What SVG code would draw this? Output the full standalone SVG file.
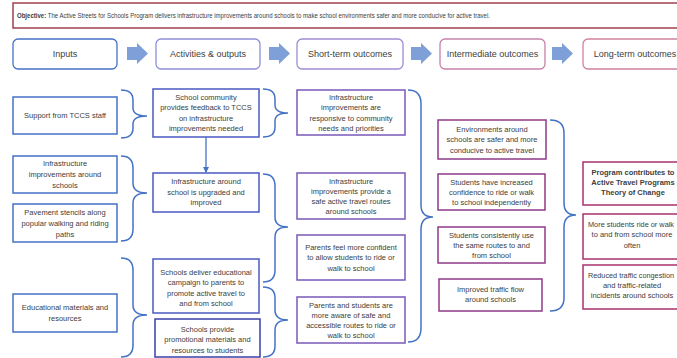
<svg xmlns="http://www.w3.org/2000/svg" width="677" height="358" viewBox="0 0 677 358">
<style>
text{font-family:"Liberation Sans","Open Sans",Arial,sans-serif;fill:#404040;}
.t{font-size:7.5px;text-anchor:middle;}
.h{font-size:9px;text-anchor:middle;}
.b{font-weight:bold;}
.box{fill:#fff;stroke-width:1.5;}
.in{stroke:#4472c4;}
.act{stroke:#4a58c0;}
.st{stroke:#7a58b8;}
.im{stroke:#8e3a88;}
.lt{stroke:#a8326c;}
.hd{fill:#fff;stroke-width:1.3;}
.brace{fill:none;stroke:#4472c4;stroke-width:1.5;}
.blk{fill:#7f9fd8;}
</style>
<defs>
<marker id="ah" markerWidth="6" markerHeight="6" refX="5" refY="3" orient="auto" markerUnits="userSpaceOnUse">
<path d="M0,0 L6,3 L0,6 Z" fill="#4472c4"/>
</marker>
</defs>
<rect width="677" height="358" fill="#fff"/>

<g id="objective">
<rect x="13" y="3" width="700" height="25" fill="#fff" stroke="#a0404f" stroke-width="1.5"/>
<text x="17" y="18" font-size="6.4" textLength="473" lengthAdjust="spacingAndGlyphs"><tspan class="b">Objective:</tspan> The Active Streets for Schools Program delivers infrastructure improvements around schools to make school environments safer and more conducive for active travel.</text>
</g>

<g id="headers">
<g id="h-inputs"><rect class="hd" x="13" y="39" width="104" height="30" rx="5" stroke="#4472c4" stroke-width="2"/><text class="h" x="65" y="57">Inputs</text></g>
<g id="h-activities"><rect class="hd" x="156" y="39" width="104" height="30" rx="5" stroke="#8e8fd6"/><text class="h" x="208" y="57">Activities &amp; outputs</text></g>
<g id="h-short"><rect class="hd" x="297" y="39" width="106" height="30" rx="5" stroke="#a08cd4"/><text class="h" x="350" y="57">Short-term outcomes</text></g>
<g id="h-inter"><rect class="hd" x="440" y="39" width="105" height="30" rx="5" stroke="#c682a9"/><text class="h" x="492.5" y="57">Intermediate outcomes</text></g>
<g id="h-long"><rect class="hd" x="583" y="39" width="110" height="30" rx="5" stroke="#d2809f"/><text class="h" x="635" y="57">Long-term outcomes</text></g>
<path class="blk" d="M127,47 H137 V43 L148,53.5 L137,64 V60 H127 Z"/>
<path class="blk" d="M269,47 H279 V43 L290,53.5 L279,64 V60 H269 Z"/>
<path class="blk" d="M411,47 H421 V43 L432,53.5 L421,64 V60 H411 Z"/>
<path class="blk" d="M552,47 H562 V43 L573,53.5 L562,64 V60 H552 Z"/>
</g>

<g id="i1"><rect class="box in" x="13" y="97" width="104" height="37"/><text class="t" x="65" y="118">Support from TCCS staff</text></g>
<g id="i2"><rect class="box in" x="13" y="156" width="104" height="37"/><text class="t" x="65" y="166">Infrastructure</text><text class="t" x="65" y="177">improvements around</text><text class="t" x="65" y="188">schools</text></g>
<g id="i3"><rect class="box in" x="13" y="204" width="104" height="38"/><text class="t" x="65" y="214.5">Pavement stencils along</text><text class="t" x="65" y="225.5">popular walking and riding</text><text class="t" x="65" y="236.5">paths</text></g>
<g id="i4"><rect class="box in" x="13" y="294" width="104" height="38"/><text class="t" x="65" y="310">Educational materials and</text><text class="t" x="65" y="321">resources</text></g>

<g id="a1"><rect class="box act" x="153" y="89" width="106" height="48"/><text class="t" x="206" y="100">School community</text><text class="t" x="206" y="110.3">provides feedback to TCCS</text><text class="t" x="206" y="120.6">on infrastructure</text><text class="t" x="206" y="130.9">improvements needed</text></g>
<g id="a2"><rect class="box act" x="153" y="173" width="106" height="39"/><text class="t" x="206" y="184">Infrastructure around</text><text class="t" x="206" y="194.5">school is upgraded and</text><text class="t" x="206" y="205">improved</text></g>
<g id="a3"><rect class="box act" x="153" y="259" width="106" height="54"/><text class="t" x="206" y="275">Schools deliver educational</text><text class="t" x="206" y="285.3">campaign to parents to</text><text class="t" x="206" y="295.6">promote active travel to</text><text class="t" x="206" y="305.9">and from school</text></g>
<g id="a4"><rect class="box" x="155" y="319" width="105" height="38" stroke="#3a40a8" stroke-width="2"/><text class="t" x="207.5" y="332">Schools provide</text><text class="t" x="207.5" y="342.3">promotional materials and</text><text class="t" x="207.5" y="352.6">resources to students</text></g>

<g id="s1"><rect class="box st" x="297" y="90" width="108" height="45"/><text class="t" x="351" y="100">Infrastructure</text><text class="t" x="351" y="110.3">improvements are</text><text class="t" x="351" y="120.6">responsive to community</text><text class="t" x="351" y="130.9">needs and priorities</text></g>
<g id="s2"><rect class="box st" x="297" y="173" width="108" height="46"/><text class="t" x="351" y="183.5">Infrastructure</text><text class="t" x="351" y="193.8">improvements provide a</text><text class="t" x="351" y="204.1">safe active travel routes</text><text class="t" x="351" y="214.4">around schools</text></g>
<g id="s3"><rect class="box st" x="297" y="235" width="108" height="45"/><text class="t" x="351" y="250">Parents feel more confident</text><text class="t" x="351" y="260.3">to allow students to ride or</text><text class="t" x="351" y="270.6">walk to school</text></g>
<g id="s4"><rect class="box st" x="297" y="297" width="108" height="46"/><text class="t" x="351" y="307.5">Parents and students are</text><text class="t" x="351" y="317.8">more aware of safe and</text><text class="t" x="351" y="328.1">accessible routes to ride or</text><text class="t" x="351" y="338.4">walk to school</text></g>

<g id="m1"><rect class="box im" x="438" y="120" width="108" height="39"/><text class="t" x="492" y="132">Environments around</text><text class="t" x="492" y="142.3">schools are safer and more</text><text class="t" x="492" y="152.6">conducive to active travel</text></g>
<g id="m2"><rect class="box im" x="438" y="174" width="107" height="36"/><text class="t" x="491.5" y="184.5">Students have increased</text><text class="t" x="491.5" y="194.8">confidence to ride or walk</text><text class="t" x="491.5" y="205.1">to school independently</text></g>
<g id="m3"><rect class="box im" x="438" y="227" width="107" height="36"/><text class="t" x="491.5" y="237.5">Students consistently use</text><text class="t" x="491.5" y="247.8">the same routes to and</text><text class="t" x="491.5" y="258.1">from school</text></g>
<g id="m4"><rect class="box im" x="439" y="279" width="103" height="32"/><text class="t" x="490.5" y="292">Improved traffic flow</text><text class="t" x="490.5" y="302.3">around schools</text></g>

<g id="l1"><rect class="box lt" x="583" y="162" width="107" height="43"/><text class="t b" x="633" y="174.5">Program contributes to</text><text class="t b" x="633" y="184.8">Active Travel Programs</text><text class="t b" x="633" y="195.1">Theory of Change</text></g>
<g id="l2"><rect class="box lt" x="583" y="214" width="107" height="45"/><text x="588" y="227" font-size="7.5" textLength="86" lengthAdjust="spacingAndGlyphs">More students ride or walk</text><text class="t" x="632" y="237.3">to and from school more</text><text class="t" x="632" y="247.6">often</text></g>
<g id="l3"><rect class="box lt" x="583" y="265" width="107" height="44"/><text x="588" y="277.5" font-size="7.5" textLength="86" lengthAdjust="spacingAndGlyphs">Reduced traffic congestion</text><text class="t" x="632" y="287.8">and traffic-related</text><text class="t" x="632" y="298.1">incidents around schools</text></g>

<g id="connectors">
<line x1="206" y1="137" x2="206" y2="172" stroke="#4472c4" stroke-width="1.3" marker-end="url(#ah)"/>
<path class="brace" d="M121,90 Q133,90 133,100 L133,108 Q133,116 147,116 Q133,116 133,124 L133,128 Q133,138 121,138"/>
<path class="brace" d="M121,156 Q133,156 133,168 L133,183 Q133,193 147,193 Q133,193 133,203 L133,229 Q133,241 121,241"/>
<path class="brace" d="M121,258 Q133,258 133,270 L133,305 Q133,315 147,315 Q133,315 133,325 L133,345 Q133,357 121,357"/>
<path class="brace" d="M263,89 Q275,89 275,99 L275,105 Q275,113 288,113 Q275,113 275,121 L275,127 Q275,137 263,137"/>
<path class="brace" d="M263,174 Q275,174 275,186 L275,217 Q275,227 288,227 Q275,227 275,237 L275,270 Q275,282 263,282"/>
<path class="brace" d="M263,287 Q275,287 275,298 L275,310 Q275,320 288,320 Q275,320 275,330 L275,346 Q275,357 263,357"/>
<path class="brace" d="M408,90 Q421,90 421,104 L421,205 Q421,217 433,217 Q421,217 421,229 L421,328 Q421,342 408,342"/>
<path class="brace" d="M550,120 Q564,120 564,133 L564,203 Q564,215 576,215 Q564,215 564,227 L564,298 Q564,311 550,311"/>
</g>
</svg>
